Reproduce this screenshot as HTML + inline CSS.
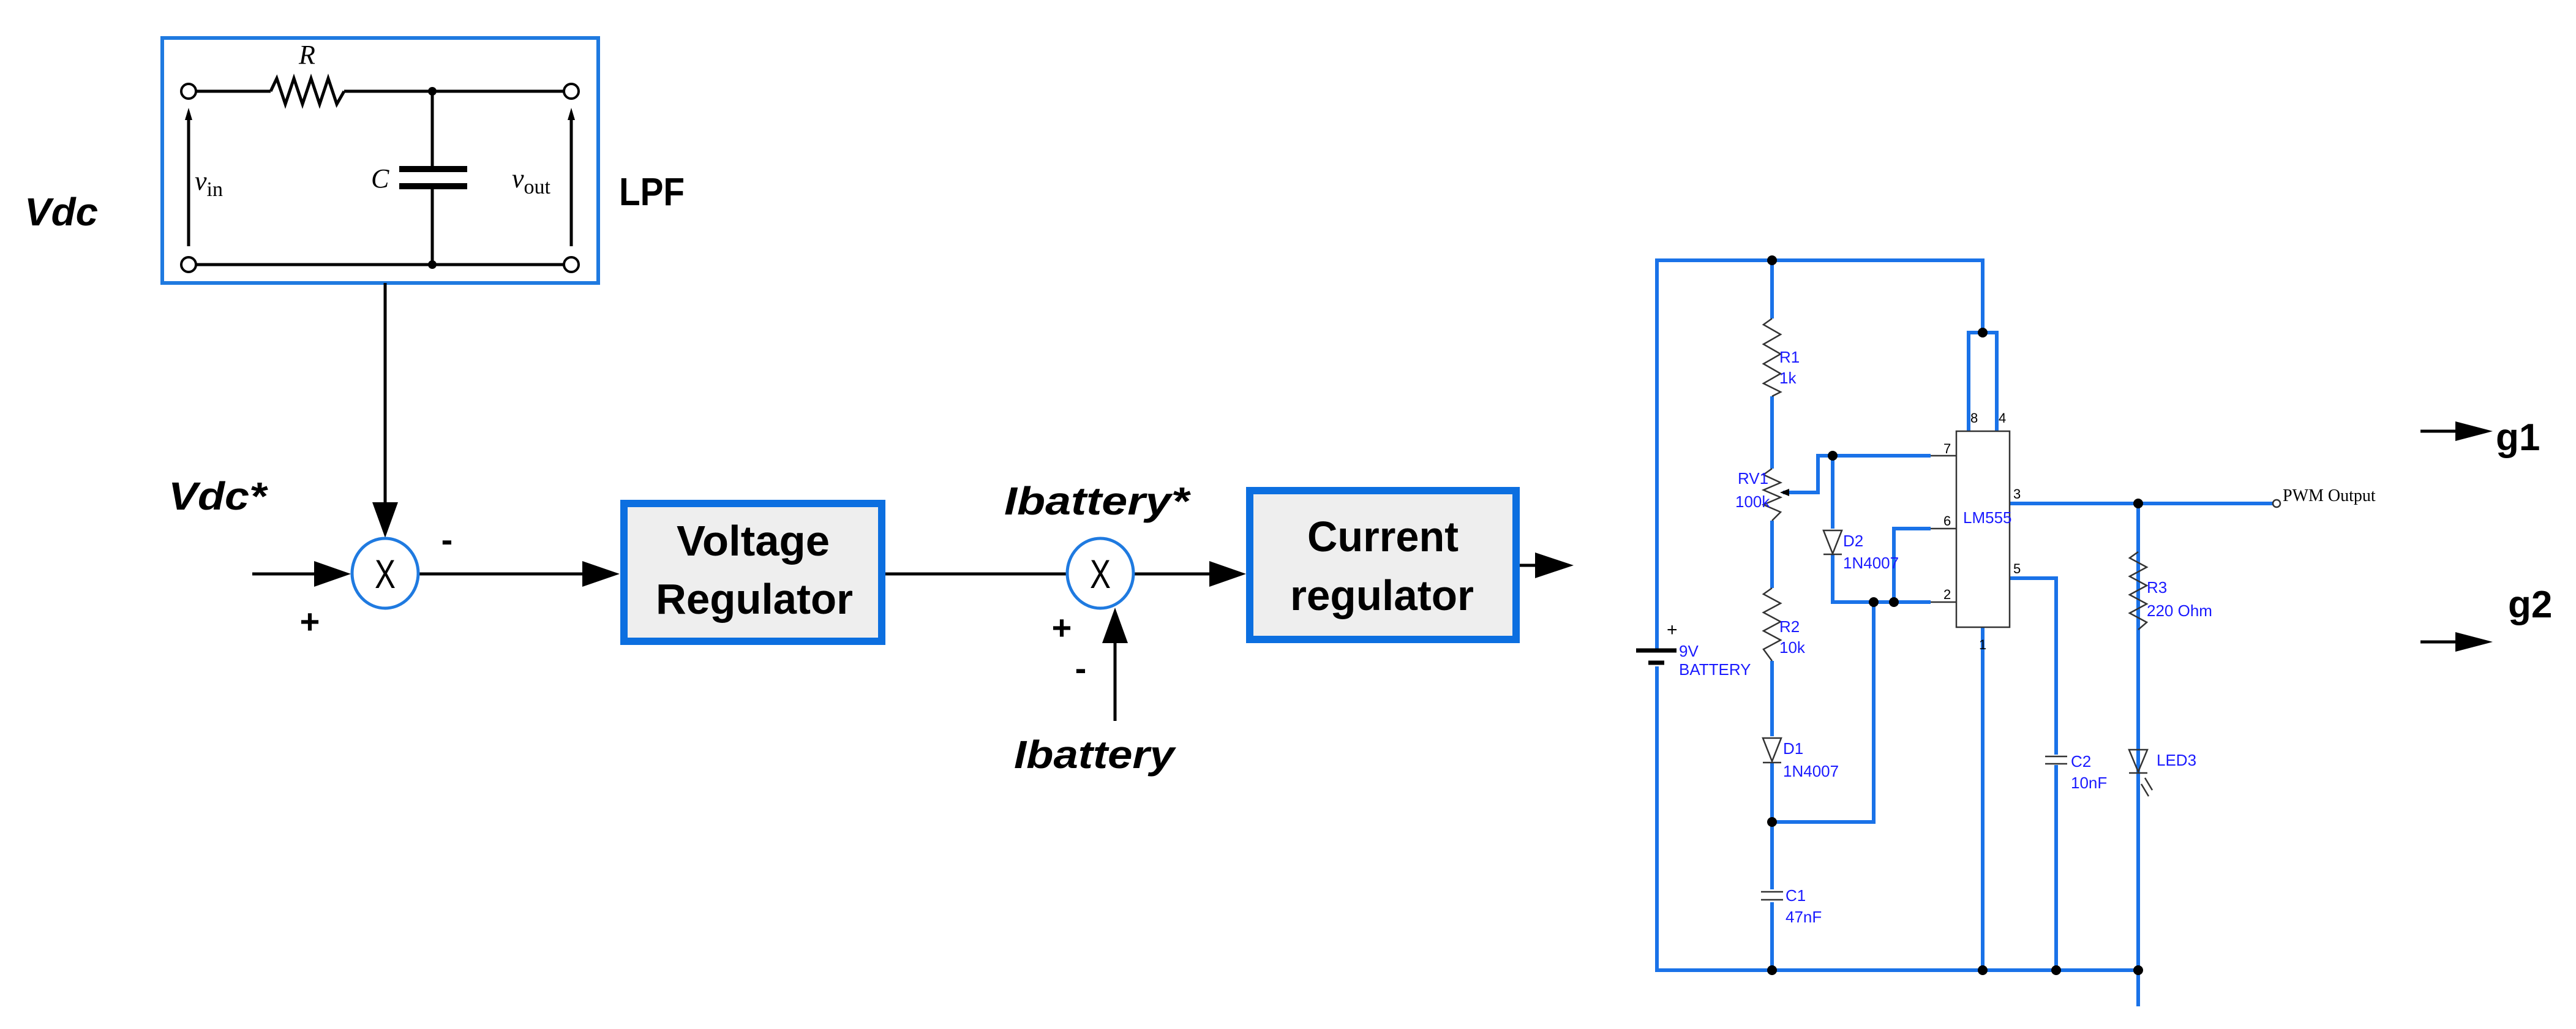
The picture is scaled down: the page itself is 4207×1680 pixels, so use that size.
<!DOCTYPE html>
<html><head><meta charset="utf-8"><style>
html,body{margin:0;padding:0;background:#fff;}
svg{display:block;}
.b{font-family:"Liberation Sans",sans-serif;font-weight:bold;}
.bi{font-family:"Liberation Sans",sans-serif;font-weight:bold;font-style:italic;}
.s{font-family:"Liberation Serif",serif;}
.lb{font-family:"Liberation Sans Narrow","Liberation Sans",sans-serif;fill:#1a1aff;font-size:26px;}
</style></head><body>
<svg width="4207" height="1680" viewBox="0 0 4207 1680" xmlns="http://www.w3.org/2000/svg">
<rect width="4207" height="1680" fill="#fff"/>
<!-- LPF box -->
<rect x="265" y="62" width="712" height="400" fill="none" stroke="#1f7ae0" stroke-width="6"/>
<g stroke="#000" stroke-width="5" fill="none">
<line x1="316" y1="149" x2="442" y2="149"/>
<polyline points="442,149 452,128 466,170 480,128 494,170 508,128 522,170 536,128 550,170 562,149"/>
<line x1="562" y1="149" x2="925" y2="149"/>
<line x1="316" y1="432" x2="925" y2="432"/>
<line x1="706" y1="149" x2="706" y2="276"/>
<line x1="706" y1="303" x2="706" y2="432"/>
<line x1="308" y1="402" x2="308" y2="190"/>
<line x1="933" y1="402" x2="933" y2="190"/>
</g>
<rect x="652" y="271" width="111" height="10" fill="#000"/>
<rect x="652" y="299" width="111" height="10" fill="#000"/>
<polygon points="308,176 302,196 314,196" fill="#000"/>
<polygon points="933,176 927,196 939,196" fill="#000"/>
<g fill="#fff" stroke="#000" stroke-width="4">
<circle cx="308" cy="149" r="12"/><circle cx="933" cy="149" r="12"/>
<circle cx="308" cy="432" r="12"/><circle cx="933" cy="432" r="12"/>
</g>
<circle cx="706" cy="149" r="7"/><circle cx="706" cy="432" r="7"/>
<text x="488" y="104" class="s" font-style="italic" font-size="44">R</text>
<text x="606" y="306" class="s" font-style="italic" font-size="44">C</text>
<text x="318" y="310" class="s" font-size="44"><tspan font-style="italic">v</tspan><tspan font-size="34" dy="10">in</tspan></text>
<text x="836" y="306" class="s" font-size="44"><tspan font-style="italic">v</tspan><tspan font-size="34" dy="10">out</tspan></text>
<text x="40" y="368" class="bi" font-size="64" textLength="120" lengthAdjust="spacingAndGlyphs">Vdc</text>
<text x="1011" y="335" class="b" font-size="64" textLength="107" lengthAdjust="spacingAndGlyphs">LPF</text>
<text x="275" y="832" class="bi" font-size="64" textLength="160" lengthAdjust="spacingAndGlyphs">Vdc*</text>
<text x="1640" y="840" class="bi" font-size="64" textLength="302" lengthAdjust="spacingAndGlyphs">Ibattery*</text>
<text x="1656" y="1254" class="bi" font-size="64" textLength="262" lengthAdjust="spacingAndGlyphs">Ibattery</text>
<!-- block diagram lines -->
<g stroke="#000" stroke-width="5" fill="none">
<line x1="629" y1="462" x2="629" y2="830"/>
<line x1="412" y1="937" x2="520" y2="937"/>
<line x1="684" y1="937" x2="955" y2="937"/>
<line x1="1446" y1="937" x2="1742" y2="937"/>
<line x1="1852" y1="937" x2="1980" y2="937"/>
<line x1="1821" y1="1177" x2="1821" y2="1040"/>
<line x1="2482" y1="923" x2="2520" y2="923"/>
</g>
<g fill="#000">
<polygon points="608,820 650,820 629,878"/>
<polygon points="513,916 513,958 573,937"/>
<polygon points="951,916 951,958 1012,937"/>
<polygon points="1975,916 1975,958 2035,937"/>
<polygon points="1800,1050 1842,1050 1821,992"/>
<polygon points="2507,902 2507,944 2570,923"/>
</g>
<g fill="#fff" stroke="#1f7ae0" stroke-width="5">
<ellipse cx="629" cy="936" rx="54" ry="57"/>
<ellipse cx="1797" cy="936" rx="54" ry="57"/>
</g>
<text x="629" y="960" text-anchor="middle" font-family="Liberation Sans,sans-serif" font-size="66" textLength="34" lengthAdjust="spacingAndGlyphs">X</text>
<text x="1797" y="960" text-anchor="middle" font-family="Liberation Sans,sans-serif" font-size="66" textLength="34" lengthAdjust="spacingAndGlyphs">X</text>
<text x="506" y="1034" text-anchor="middle" class="b" font-size="56">+</text>
<text x="730" y="900" text-anchor="middle" class="b" font-size="56">-</text>
<text x="1734" y="1044" text-anchor="middle" class="b" font-size="56">+</text>
<text x="1765" y="1110" text-anchor="middle" class="b" font-size="56">-</text>
<!-- regulator boxes -->
<rect x="1019" y="822" width="421" height="225" fill="#eeeeee" stroke="#0c6fe0" stroke-width="12"/>
<text x="1105" y="907" class="b" font-size="70" textLength="250" lengthAdjust="spacingAndGlyphs">Voltage</text>
<text x="1071" y="1002" class="b" font-size="70" textLength="322" lengthAdjust="spacingAndGlyphs">Regulator</text>
<rect x="2041" y="801" width="435" height="243" fill="#eeeeee" stroke="#0c6fe0" stroke-width="12"/>
<text x="2135" y="900" class="b" font-size="70" textLength="247" lengthAdjust="spacingAndGlyphs">Current</text>
<text x="2107" y="996" class="b" font-size="70" textLength="300" lengthAdjust="spacingAndGlyphs">regulator</text>
<!-- circuit -->
<g stroke="#1a72e8" stroke-width="6" fill="none">
<polyline points="2706,1062 2706,425 3238,425 3238,543"/>
<polyline points="2706,1088 2706,1584 3492,1584"/>
<line x1="3492" y1="822" x2="3492" y2="1643"/>
<polyline points="3215,704 3215,543 3261,543 3261,704"/>
<line x1="2894" y1="425" x2="2894" y2="520"/>
<line x1="2894" y1="647" x2="2894" y2="765"/>
<line x1="2894" y1="850" x2="2894" y2="960"/>
<line x1="2894" y1="1079" x2="2894" y2="1202"/>
<line x1="2894" y1="1245" x2="2894" y2="1452"/>
<line x1="2894" y1="1473" x2="2894" y2="1584"/>
<polyline points="3153,744 2969,744 2969,804 2912,804"/>
<line x1="2993" y1="744" x2="2993" y2="863"/>
<polyline points="2993,905 2993,983 3153,983"/>
<polyline points="3153,863 3093,863 3093,983"/>
<polyline points="3060,983 3060,1342 2894,1342"/>
<line x1="3238" y1="1024" x2="3238" y2="1584"/>
<line x1="3282" y1="822" x2="3712" y2="822"/>
<polyline points="3282,944 3358,944 3358,1232"/>
<line x1="3358" y1="1249" x2="3358" y2="1584"/>
</g>
<g stroke="#333" stroke-width="2.5" fill="none">
<line x1="3153" y1="744" x2="3195" y2="744"/>
<line x1="3153" y1="863" x2="3195" y2="863"/>
<line x1="3153" y1="983" x2="3195" y2="983"/>
<rect x="3195" y="704" width="87" height="320" fill="#fff"/>
<polyline points="2894,520 2880,530 2908,546 2880,562 2908,578 2880,594 2908,610 2880,626 2908,640 2894,647"/>
<polyline points="2894,765 2880,775 2908,788 2880,800 2908,812 2880,824 2908,836 2894,850"/>
<polyline points="2894,960 2880,970 2908,985 2880,1000 2908,1015 2880,1030 2908,1045 2880,1060 2894,1079"/>
<polyline points="3492,901 3478,911 3506,926 3478,941 3506,956 3478,971 3506,986 3478,1001 3506,1016 3492,1028"/>
<polygon points="2879,1205 2909,1205 2894,1243"/><line x1="2879" y1="1245" x2="2909" y2="1245"/>
<polygon points="2978,866 3008,866 2993,904"/><line x1="2978" y1="905" x2="3008" y2="905"/>
<polygon points="3477,1224 3507,1224 3492,1260"/><line x1="3477" y1="1262" x2="3507" y2="1262"/>
<line x1="2876" y1="1456" x2="2912" y2="1456"/><line x1="2876" y1="1469" x2="2912" y2="1469"/>
<line x1="3340" y1="1235" x2="3376" y2="1235"/><line x1="3340" y1="1247" x2="3376" y2="1247"/>
<line x1="3503" y1="1270" x2="3515" y2="1290"/><line x1="3497" y1="1280" x2="3509" y2="1300"/>
<circle cx="3718" cy="822" r="6" fill="#fff"/>
</g>
<polygon points="2907,804 2922,798 2922,810" fill="#000"/>
<line x1="2672" y1="1062" x2="2738" y2="1062" stroke="#000" stroke-width="7"/>
<line x1="2692" y1="1082" x2="2718" y2="1082" stroke="#000" stroke-width="7"/>
<g fill="#000">
<circle cx="2894" cy="425" r="8"/><circle cx="3238" cy="543" r="8"/>
<circle cx="2993" cy="744" r="8"/><circle cx="3060" cy="983" r="8"/><circle cx="3093" cy="983" r="8"/>
<circle cx="2894" cy="1342" r="8"/><circle cx="3492" cy="822" r="8"/>
<circle cx="2894" cy="1584" r="8"/><circle cx="3238" cy="1584" r="8"/><circle cx="3358" cy="1584" r="8"/><circle cx="3492" cy="1584" r="8"/>
</g>
<text x="2722" y="1038" font-family="Liberation Sans,sans-serif" font-size="30" fill="#000">+</text>
<text class="lb" x="2742" y="1072">9V</text><text class="lb" x="2742" y="1102">BATTERY</text>
<text class="lb" x="2906" y="592">R1</text><text class="lb" x="2906" y="626">1k</text>
<text class="lb" x="2838" y="790">RV1</text><text class="lb" x="2834" y="828">100k</text>
<text class="lb" x="2906" y="1032">R2</text><text class="lb" x="2906" y="1066">10k</text>
<text class="lb" x="2912" y="1231">D1</text><text class="lb" x="2912" y="1268">1N4007</text>
<text class="lb" x="2916" y="1471">C1</text><text class="lb" x="2916" y="1506">47nF</text>
<text class="lb" x="3010" y="892">D2</text><text class="lb" x="3010" y="928">1N4007</text>
<text class="lb" x="3206" y="854">LM555</text>
<text class="lb" x="3382" y="1252">C2</text><text class="lb" x="3382" y="1287">10nF</text>
<text class="lb" x="3506" y="968">R3</text><text class="lb" x="3506" y="1006">220 Ohm</text>
<text class="lb" x="3522" y="1250">LED3</text>
<g font-family="Liberation Sans,sans-serif" font-size="22" fill="#000">
<text x="3174" y="740">7</text><text x="3174" y="858">6</text><text x="3174" y="978">2</text>
<text x="3288" y="814">3</text><text x="3288" y="936">5</text>
<text x="3218" y="690">8</text><text x="3264" y="690">4</text><text x="3232" y="1060">1</text>
</g>
<text x="3728" y="818" font-family="Liberation Serif,serif" font-size="28" fill="#000">PWM Output</text>
<!-- g1 g2 -->
<line x1="3953" y1="704" x2="4030" y2="704" stroke="#000" stroke-width="5"/>
<polygon points="4010,688 4010,720 4071,704"/>
<line x1="3953" y1="1048" x2="4030" y2="1048" stroke="#000" stroke-width="5"/>
<polygon points="4010,1032 4010,1064 4071,1048"/>
<text x="4076" y="735" class="b" font-size="62">g1</text>
<text x="4096" y="1008" class="b" font-size="62">g2</text>
</svg>
</body></html>
